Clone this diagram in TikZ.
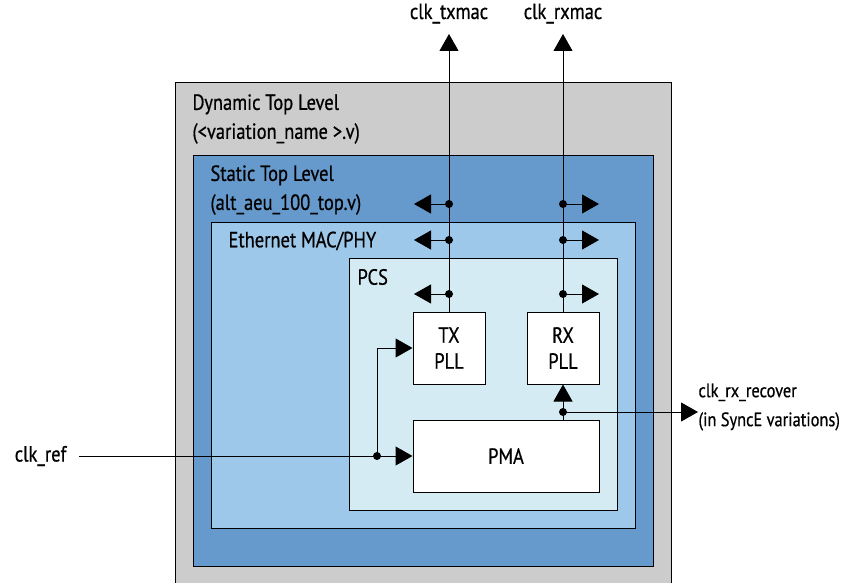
\documentclass[tikz,border=0pt]{standalone}
\usepackage{fontspec}
\newfontfamily\diagfont{PT Sans}[FakeStretch=0.84, FakeBold=0.6]
\usetikzlibrary{arrows.meta}
\definecolor{dyngray}{RGB}{204,204,204}
\definecolor{statblue}{RGB}{102,153,204}
\definecolor{ethblue}{RGB}{158,200,233}
\definecolor{pcsblue}{RGB}{212,235,243}

\begin{document}
\begin{tikzpicture}[x=1pt, y=-1pt, line width=1pt,
   font=\diagfont\fontsize{22}{29}\selectfont,
   level/.style={draw, anchor=north west, inner sep=0pt},
   block/.style={draw, fill=white, align=center, inner sep=0pt, minimum width=72pt, minimum height=72pt},
   lbl/.style={anchor=west, align=left, inner sep=0pt},
   sig/.style={-{Triangle[length=17pt, width=19pt]}},
   tap/.style={circle, fill, inner sep=0pt, minimum size=8pt}]
  \clip (0,0) rectangle (848,583);
  \useasboundingbox (0,0) rectangle (848,583);

  % nested levels
  \node[level, fill=dyngray, minimum width=496pt, minimum height=520pt] (dyn) at (175,82) {};
  \node[level, fill=statblue, minimum width=460pt, minimum height=411pt] (stat) at (193,155) {};
  \node[level, fill=ethblue, minimum width=424pt, minimum height=306pt] (eth) at (211,222) {};
  \node[level, fill=pcsblue, minimum width=268pt, minimum height=252pt] (pcs) at (349,258) {};

  \node[lbl] (dynlbl) at (192,119) {Dynamic Top Level\\(<variation\_name >.v)};
  \node[lbl] (statlbl) at (210,190) {Static Top Level\\(alt\_aeu\_100\_top.v)};
  \node[lbl] (ethlbl) at (228,241) {Ethernet MAC/PHY};
  \node[lbl] (pcslbl) at (357,277) {PCS};

  % blocks
  \node[block] (txpll) at (449,348) {TX\\[-3pt]PLL};
  \node[block] (rxpll) at (563,348) {RX\\[-3pt]PLL};
  \node[block, minimum width=186pt] (pma) at (506,456) {PMA};

  % clock outputs
  \node[anchor=south, inner sep=0pt] (txmac) at (449,24) {clk\_txmac};
  \node[anchor=south, inner sep=0pt] (rxmac) at (563,24) {clk\_rxmac};
  \coordinate (txtop) at (449,34);
  \coordinate (rxtop) at (563,34);
  \draw[sig] (txpll.north) -- (txtop);
  \draw[sig] (rxpll.north) -- (rxtop);
  \foreach \y [count=\i] in {204,240,294} {
    \node[tap] (txtap\i) at (449,\y) {};
    \node[tap] (rxtap\i) at (563,\y) {};
    \coordinate (txend\i) at (414,\y);
    \coordinate (rxend\i) at (599,\y);
    \draw[sig] (txtap\i.center) -- (txend\i);
    \draw[sig] (rxtap\i.center) -- (rxend\i);
  }

  % reference clock
  \node[anchor=east, inner sep=0pt] (clkref) at (67,456) {clk\_ref};
  \coordinate (refstart) at (79,456);
  \node[tap] (reftap) at (377,456) {};
  \draw[sig] (refstart) -- (pma.west);
  \draw[sig] (reftap.center) |- (txpll.west);

  % recovered clock
  \node[tap] (rectap) at (563,412) {};
  \draw[sig] (pma.north -| rxpll) -- (rxpll.south);
  \coordinate (recend) at (698,412);
  \draw[sig] (rectap.center) -- (recend);
  \node[lbl, font=\diagfont\fontsize{19.5}{29}\selectfont] (recover) at (698,407) {clk\_rx\_recover\\(in SyncE variations)};
\end{tikzpicture}
\end{document}
